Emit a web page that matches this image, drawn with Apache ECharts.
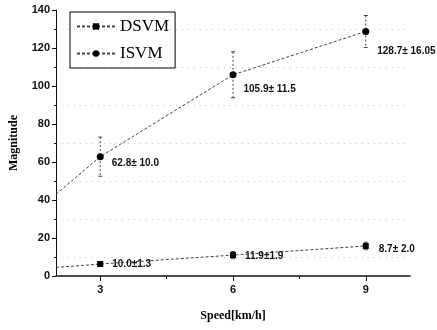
<!DOCTYPE html>
<html><head><meta charset="utf-8">
<script src="https://cdn.jsdelivr.net/npm/echarts@6/dist/echarts.min.js"></script>
<style>html,body{margin:0;padding:0;background:#fff}#c{width:437px;height:330px}</style>
</head><body><div id="c"></div>
<script>
const speeds = [3, 6, 9];
const lineStartX = 2;
const dsvmStart = 4.5;
const isvmStart = 43;
const dsvmValues = [6.3, 11.0, 15.8];
const isvmValues = [62.8, 105.9, 128.7];
const dsvmErrors = [1.3, 1.9, 2.0];
const isvmErrors = [10.3, 12.1, 8.4];
const dsvmLabels = ['10.0\u00b11.3', '11.9\u00b11.9', '8.7\u00b1 2.0'];
const isvmLabels = ['62.8\u00b1 10.0', '105.9\u00b1 11.5', '128.7\u00b1 16.05'];
const xTicks = [3, 6, 9];
const xMinorTicks = [4.5, 7.5];

const isvmLabelOffsets = [[3, 7], [2, 14], [3, 20]];
const dsvmLabelOffsets = [[4, 0], [4, 1], [5, 3]];

function lineData(startY, vals, labels, offsets) {
  const d = [{ value: [lineStartX, startY], symbol: 'none', label: { show: false } }];
  vals.forEach((v, i) => d.push({
    value: [speeds[i], v],
    label: { show: true, formatter: labels[i], offset: offsets[i] }
  }));
  return d;
}
function errData(vals, errs) {
  return vals.map((v, i) => [speeds[i], v - errs[i], v + errs[i]]);
}
function renderErr(params, api) {
  const x = api.value(0), lo = api.value(1), hi = api.value(2);
  const p1 = api.coord([x, hi]), p2 = api.coord([x, lo]);
  const st = { stroke: '#444', lineWidth: 1, lineDash: [2, 2] };
  const cs = { stroke: '#444', lineWidth: 1 };
  return { type: 'group', children: [
    { type: 'line', shape: { x1: p1[0], y1: p1[1], x2: p2[0], y2: p2[1] }, style: st },
    { type: 'line', shape: { x1: p1[0] - 2, y1: p1[1], x2: p1[0] + 2, y2: p1[1] }, style: cs },
    { type: 'line', shape: { x1: p2[0] - 2, y1: p2[1], x2: p2[0] + 2, y2: p2[1] }, style: cs }
  ]};
}

const labelStyle = { position: 'right', fontFamily: 'Liberation Sans', fontSize: 10, color: '#111', fontWeight: 'bold' };

const chart = echarts.init(document.getElementById('c'), null, { renderer: 'canvas' });
chart.setOption({
  animation: false,
  backgroundColor: '#fff',
  grid: { left: 53, top: 10, right: 27, bottom: 54 },
  legend: {
    left: 70, top: 12, orient: 'vertical',
    borderColor: '#000', borderWidth: 1, padding: [6, 6, 6, 6],
    itemWidth: 38, itemHeight: 8, itemGap: 10,
    textStyle: { fontFamily: 'Liberation Serif', fontSize: 17, color: '#000' },
    data: ['DSVM', 'ISVM']
  },
  xAxis: [{
    type: 'value', min: 2, max: 10,
    axisLine: { lineStyle: { color: '#111', width: 1.5 } },
    axisTick: { customValues: xTicks, length: 5, lineStyle: { color: '#111' } },
    axisLabel: { customValues: xTicks, fontFamily: 'Liberation Sans', fontSize: 11, color: '#111', fontWeight: 'bold', margin: 8 },
    splitLine: { show: false },
    name: 'Speed[km/h]', nameLocation: 'middle', nameGap: 34,
    nameTextStyle: { fontFamily: 'Liberation Serif', fontWeight: 'bold', fontSize: 12, color: '#000' }
  }, {
    type: 'value', min: 2, max: 10, position: 'bottom',
    axisLine: { show: false },
    axisTick: { customValues: xMinorTicks, length: 3, lineStyle: { color: '#111' } },
    axisLabel: { show: false }, splitLine: { show: false }
  }],
  yAxis: {
    type: 'value', min: 0, max: 140, interval: 20,
    axisLine: { show: true, lineStyle: { color: '#111', width: 1 } },
    axisTick: { show: true, length: 4, lineStyle: { color: '#111' } },
    minorTick: { show: true, splitNumber: 2, length: 2, lineStyle: { color: '#111' } },
    minorSplitLine: { show: true, lineStyle: { color: '#c8c8c8', type: [1, 5], width: 1 } },
    splitLine: { show: false },
    axisLabel: { fontFamily: 'Liberation Sans', fontSize: 11, color: '#111', fontWeight: 'bold', margin: 6 },
    name: 'Magnitude', nameLocation: 'middle', nameGap: 36, nameRotate: 90,
    nameTextStyle: { fontFamily: 'Liberation Serif', fontWeight: 'bold', fontSize: 12, color: '#000' }
  },
  series: [
    {
      name: 'DSVM', type: 'line', symbol: 'rect', symbolSize: 6,
      data: lineData(dsvmStart, dsvmValues, dsvmLabels, dsvmLabelOffsets),
      itemStyle: { color: '#000' }, lineStyle: { color: '#444', width: 1, type: [3, 2] },
      label: labelStyle, z: 3
    },
    {
      name: 'ISVM', type: 'line', symbol: 'circle', symbolSize: 7,
      data: lineData(isvmStart, isvmValues, isvmLabels, isvmLabelOffsets),
      itemStyle: { color: '#000' }, lineStyle: { color: '#444', width: 1, type: [3, 2] },
      label: labelStyle, z: 3
    },
    { type: 'custom', renderItem: renderErr, data: errData(dsvmValues, dsvmErrors), z: 2 },
    { type: 'custom', renderItem: renderErr, data: errData(isvmValues, isvmErrors), z: 2 }
  ]
});
</script></body></html>
